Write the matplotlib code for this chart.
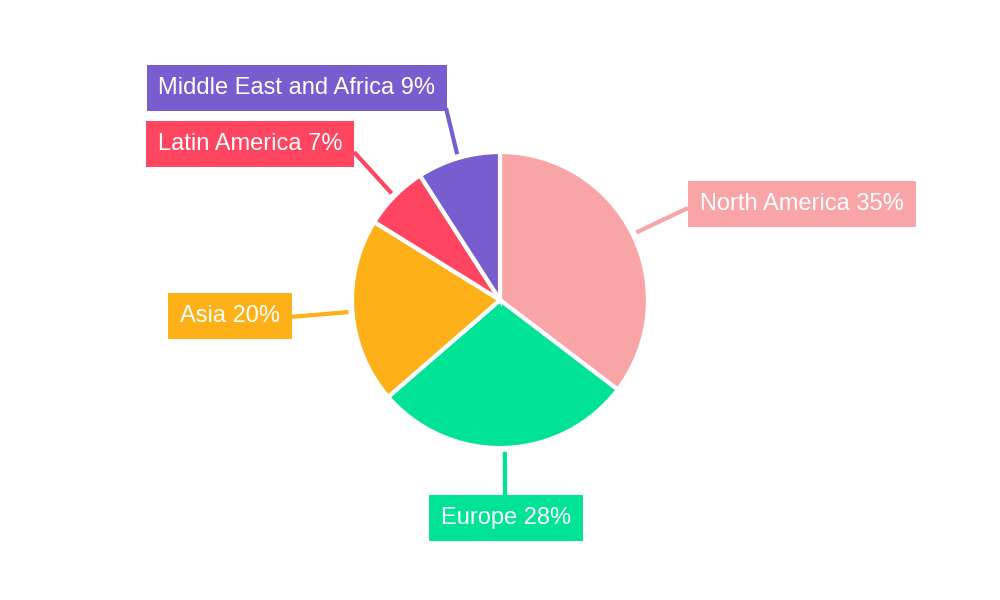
import numpy as np
import matplotlib.pyplot as plt

regions = ['North America', 'Europe', 'Asia', 'Latin America', 'Middle East and Africa']
shares = [35, 28, 20, 7, 9]
colors = ['#F9A5A8', '#00E396', '#FEB019', '#FF4560', '#775DD0']

# label box centers and line end points (pixel coords, y down)
label_pos = [(802, 204), (506, 518), (230, 316), (250, 144), (297, 88)]
line_end = [(688, 208), (505, 496), (290, 317), (354, 152), (446, 108)]

cx, cy, r = 500, 300, 148

fig = plt.figure(figsize=(10, 6), dpi=100)
ax = fig.add_axes([0, 0, 1, 1])
ax.set_aspect('equal')
ax.axis('off')

wedges, _ = ax.pie(shares, colors=colors, startangle=90, counterclock=False,
                   center=(cx, 600 - cy), radius=r,
                   wedgeprops=dict(edgecolor='white', linewidth=3))
ax.set_xlim(0, 1000)
ax.set_ylim(0, 600)

for w, name, s, col, lp, le in zip(wedges, regions, shares, colors, label_pos, line_end):
    ang = np.deg2rad((w.theta1 + w.theta2) / 2)
    sx = cx + (r + 4) * np.cos(ang)
    sy = 600 - cy + (r + 4) * np.sin(ang)
    ax.plot([sx, le[0]], [sy, 600 - le[1]], color=col, lw=3, solid_capstyle='butt')
    ax.text(lp[0], 600 - lp[1], f'{name} {s}%', ha='center', va='center',
            fontsize=17, color='white', family='Liberation Sans',
            bbox=dict(boxstyle='square,pad=0.5', fc=col, ec='none'))

fig.savefig('out.png')
